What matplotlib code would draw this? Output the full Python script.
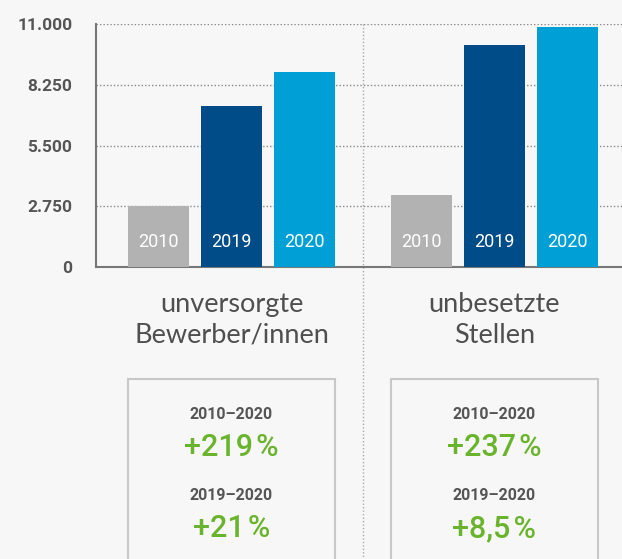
import matplotlib.pyplot as plt
from matplotlib.patches import Rectangle

# data
years = ["2010", "2019", "2020"]
groups = ["unversorgte\nBewerber/innen", "unbesetzte\nStellen"]
bewerber = [2770, 7290, 8820]
stellen = [3240, 10050, 10860]
yticks = [0, 2750, 5500, 8250, 11000]
ytick_labels = ["0", "2.750", "5.500", "8.250", "11.000"]
changes = [["+219\u200a%", "+21\u200a%"], ["+237\u200a%", "+8,5\u200a%"]]
periods = ["2010\u20132020", "2019\u20132020"]

colors = ["#b2b2b2", "#004c88", "#00a0d6"]
bg = "#f7f7f7"
txt = "#555555"
green = "#6ab42d"

fig = plt.figure(figsize=(6.22, 5.59), dpi=100, facecolor=bg)
ax = fig.add_axes([96 / 622, 292 / 559, 526 / 622, 243 / 559], facecolor=bg)

starts = [0, 3.6]
width = 0.836
for g, vals in enumerate([bewerber, stellen]):
    xs = [starts[g] + i for i in range(len(vals))]
    ax.bar(xs, vals, width=width, color=colors, zorder=3)
    for x, y in zip(xs, years):
        ax.text(x, 0.103, y, transform=ax.get_xaxis_transform(), ha="center",
                va="center", color="white", fontsize=13, family="Roboto", zorder=4)
    # category label
    ax.text(starts[g] + 1, -0.218, groups[g], transform=ax.get_xaxis_transform(),
            ha="center", va="center", fontsize=19.5, color="#4f4f4f", family="Lato",
            linespacing=1.3)
    # box with changes
    box = Rectangle((starts[g] - width / 2, -1.3), 2 + width, 1.3 - 0.461,
                    transform=ax.get_xaxis_transform(), clip_on=False,
                    facecolor="none", edgecolor="#c8c8c8", lw=1.5)
    ax.add_patch(box)
    for k, (p, c) in enumerate(zip(periods, changes[g])):
        ax.text(starts[g] + 1, -0.605 - k * 0.337, p, transform=ax.get_xaxis_transform(),
                ha="center", va="center", fontsize=11.5, color=txt,
                family=["Roboto", "DejaVu Sans"], fontweight="bold")
        ax.text(starts[g] + 1, -0.741 - k * 0.337, c, transform=ax.get_xaxis_transform(),
                ha="center", va="center", fontsize=22, color=green,
                family=["Roboto", "DejaVu Sans"], fontweight="medium")

# separator
ax.plot([2.8, 2.8], [-1.3, 1.0], transform=ax.get_xaxis_transform(), clip_on=False,
        color="#aaaaaa", lw=1, ls=(0, (1, 1.5)), zorder=1)

ax.set_xlim(-0.856, 6.349)
ax.set_ylim(0, 11000)
ax.set_yticks(yticks)
ax.set_yticklabels(ytick_labels, family="Roboto", fontsize=12.5, color=txt, fontweight="bold")
ax.set_xticks([])
ax.tick_params(axis="y", length=0, pad=17)
ax.grid(axis="y", color="#888888", ls=(0, (1, 1.5)), lw=1, zorder=0)
for s in ["top", "right"]:
    ax.spines[s].set_visible(False)
for s in ["left", "bottom"]:
    ax.spines[s].set_color("#777777")
    ax.spines[s].set_linewidth(1.5)

fig.savefig("out.png", dpi=100, facecolor=bg)
